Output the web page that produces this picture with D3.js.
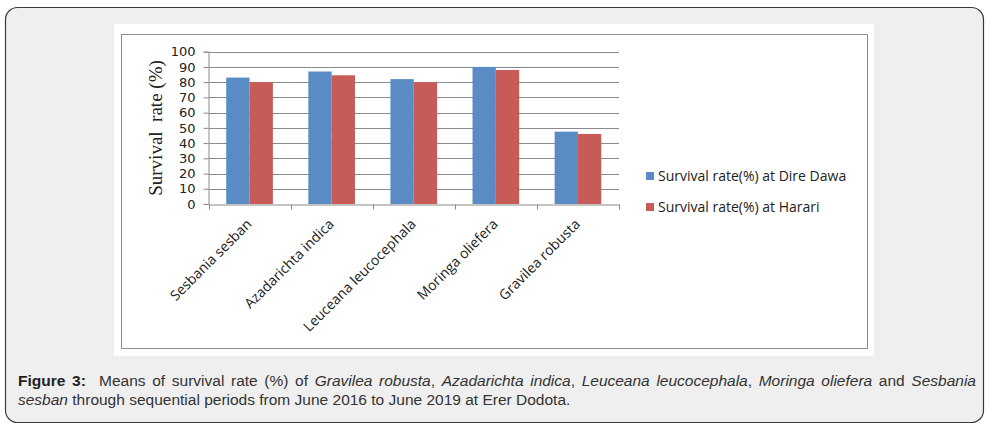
<!DOCTYPE html>
<html>
<head>
<meta charset="utf-8">
<script src="https://cdn.jsdelivr.net/npm/d3@7"></script>
<style>
  body { margin: 0; background: #fff; }
  #wrap { position: relative; width: 995px; height: 435px; }
  #caption {
    position: absolute; left: 18px; top: 371px; width: 958px;
    font-family: "Liberation Sans", Arial, sans-serif;
    font-size: 15.5px; line-height: 19px; color: #333; text-align: justify;
  }
  #caption b { color: #222; }
</style>
</head>
<body>
<div id="wrap">
  <svg id="chart" width="995" height="435"></svg>
  <div id="caption"><b>Figure 3:</b>&nbsp; Means of survival rate (%) of <i>Gravilea robusta</i>, <i>Azadarichta indica</i>, <i>Leuceana leucocephala</i>, <i>Moringa oliefera</i> and <i>Sesbania sesban</i> through sequential periods from June 2016 to June 2019 at Erer Dodota.</div>
</div>
<script>
// Data
const species = ['Sesbania sesban', 'Azadarichta indica', 'Leuceana leucocephala', 'Moringa oliefera', 'Gravilea robusta'];
const direDawa = [83, 87, 82, 90, 47.5];
const harari = [80, 84.5, 80, 88, 46];
const seriesNames = ['Survival rate(%) at Dire Dawa', 'Survival rate(%) at Harari'];
const colors = ['#5b8bc5', '#c65b58'];
const yTicks = d3.range(0, 101, 10);

const svg = d3.select('#chart');

// Figure frame
svg.append('rect')
  .attr('x', 5.5).attr('y', 7.5)
  .attr('width', 978).attr('height', 415)
  .attr('rx', 12)
  .attr('fill', '#efefef')
  .attr('stroke', '#3a3a3a')
  .attr('stroke-width', 1.2)
svg.append('rect')
  .attr('x', 114).attr('y', 24)
  .attr('width', 760).attr('height', 332)
  .attr('fill', '#fff')
svg.append('rect')
  .attr('x', 121.5).attr('y', 34.5)
  .attr('width', 746).attr('height', 314)
  .attr('fill', 'none')
  .attr('stroke', '#8c8c8c')

// Scales
const plot = {left: 208.5, right: 619, top: 51.7, bottom: 204};
const scaleX = d3.scaleBand()
  .domain(species)
  .range([plot.left, plot.right])
const scaleSeries = d3.scaleBand()
  .domain([0, 1])
  .range([0, scaleX.bandwidth()])
  .paddingOuter(0.76)
  .paddingInner(0)
const scaleY = d3.scaleLinear()
  .domain([0, 100])
  .range([plot.bottom, plot.top])

// Gridlines
svg.append('g')
  .selectAll('line')
  .data(yTicks.slice(1))
  .join('line')
    .attr('x1', plot.left).attr('x2', plot.right)
    .attr('y1', (d) => Math.round(scaleY(d)) + 0.5)
    .attr('y2', (d) => Math.round(scaleY(d)) + 0.5)
    .attr('stroke', '#8a8a8a')

// Bars
const groups = svg.append('g')
  .selectAll('g')
  .data(species)
  .join('g')
    .attr('transform', (d) => `translate(${scaleX(d)},0)`)
groups.selectAll('rect')
  .data((d, i) => [direDawa[i], harari[i]])
  .join('rect')
    .attr('x', (d, j) => scaleSeries(j))
    .attr('y', (d) => scaleY(d))
    .attr('width', scaleSeries.bandwidth())
    .attr('height', (d) => plot.bottom - scaleY(d))
    .attr('fill', (d, j) => colors[j])

// Axes
const yAxis = d3.axisLeft(scaleY).tickValues(yTicks).tickSize(5).tickPadding(8);
svg.append('g')
  .attr('transform', `translate(${plot.left},0)`)
  .call(yAxis)
  .call((g) => g.select('.domain').attr('stroke', '#8a8a8a'))
  .call((g) => g.selectAll('line').attr('stroke', '#8a8a8a'))
  .call((g) => g.selectAll('text')
    .attr('font-family', 'DejaVu Sans')
    .attr('font-size', 13)
    .attr('fill', '#222'))

const xAxis = d3.axisBottom(scaleX).tickSize(0).tickFormat('');
const xg = svg.append('g')
  .attr('transform', `translate(0,${plot.bottom + 0.5})`)
  .call(xAxis)
xg.select('.domain').attr('stroke', '#8a8a8a')
xg.append('g')
  .selectAll('line')
  .data([...species.map((s) => scaleX(s)), plot.right])
  .join('line')
    .attr('x1', (d) => Math.round(d) + 0.5).attr('x2', (d) => Math.round(d) + 0.5)
    .attr('y1', 0).attr('y2', 5)
    .attr('stroke', '#8a8a8a')

// Category labels
svg.append('g')
  .selectAll('text')
  .data(species)
  .join('text')
    .attr('transform', (d) => `translate(${scaleX(d) + scaleX.bandwidth() / 2 + 3},${plot.bottom + 21}) rotate(-45)`)
    .attr('text-anchor', 'end')
    .attr('font-family', 'Open Sans')
    .attr('font-size', 14)
    .attr('fill', '#222')
    .text((d) => d)

// Y title
svg.append('text')
  .attr('transform', 'translate(162,128) rotate(-90)')
  .attr('text-anchor', 'middle')
  .attr('font-family', 'Liberation Serif')
  .attr('font-size', 19)
  .attr('fill', '#222')
  .attr('xml:space', 'preserve')
  .text('Survival  rate (%)')

// Legend
const legend = svg.append('g')
  .selectAll('g')
  .data(seriesNames)
  .join('g')
    .attr('transform', (d, i) => `translate(646,${172 + i * 31})`)
legend.append('rect')
  .attr('width', 8).attr('height', 8)
  .attr('fill', (d, i) => colors[i])
legend.append('text')
  .attr('x', 12).attr('y', 9)
  .attr('font-family', 'Open Sans')
  .attr('font-size', 14)
  .attr('fill', '#222')
  .text((d) => d)
</script>
</body>
</html>
